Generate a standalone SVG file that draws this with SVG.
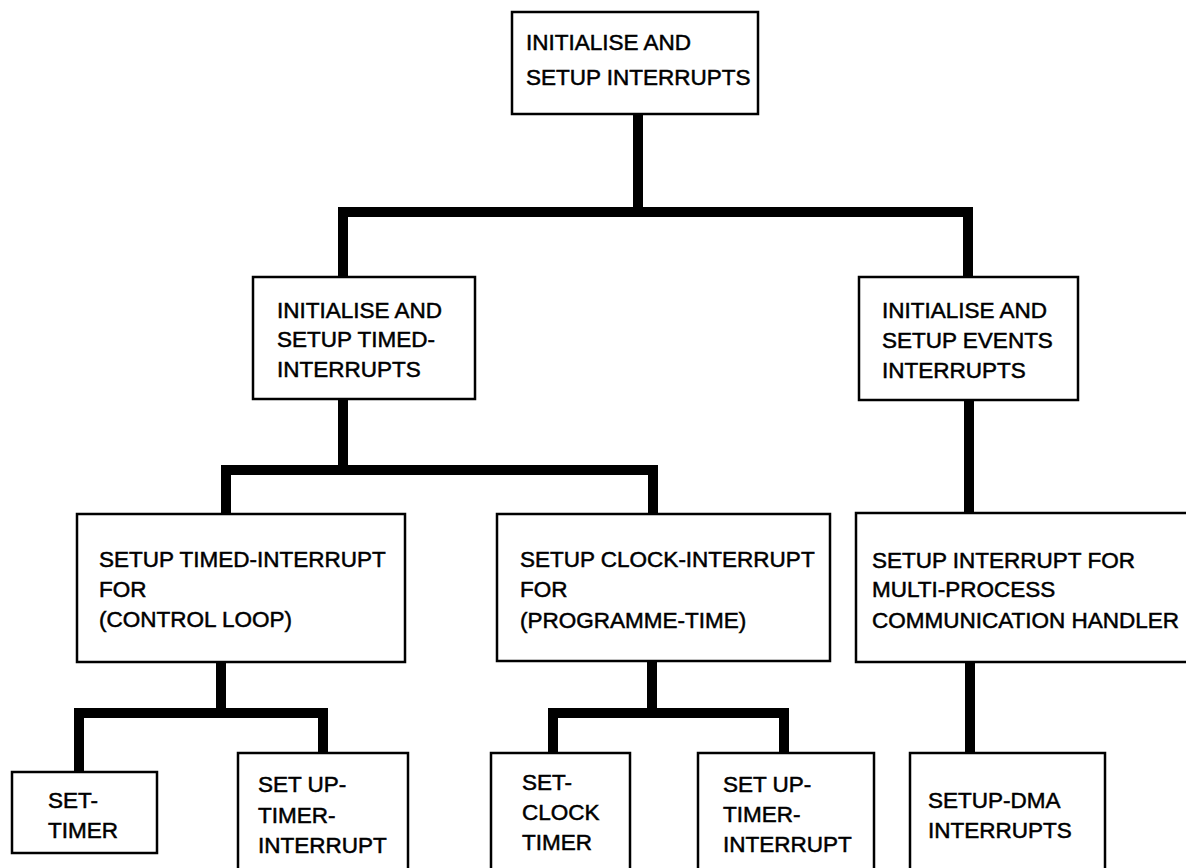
<svg xmlns="http://www.w3.org/2000/svg" width="1186" height="868" viewBox="0 0 1186 868">
  <style>
    .box { fill: #fff; stroke: #000; stroke-width: 2.5; }
    .lbl { font-family: "Liberation Sans", Arial, sans-serif; font-size: 22.5px; fill: #000; stroke: #000; stroke-width: 0.5; }
    .link { fill: none; stroke: #000; stroke-width: 10; stroke-linejoin: miter; stroke-linecap: butt; }
  </style>
  <rect width="1186" height="868" fill="#fff"/>

  <!-- tree connectors -->
  <g id="connectors">
    <path class="link" d="M638 114 V212"/>
    <path class="link" d="M343 277 V212 H968 V277"/>
    <path class="link" d="M343 399 V470"/>
    <path class="link" d="M226 514 V470 H653 V514"/>
    <path class="link" d="M969 400 V513"/>
    <path class="link" d="M221 662 V713"/>
    <path class="link" d="M79 772 V713 H323 V753"/>
    <path class="link" d="M652 661 V713"/>
    <path class="link" d="M553 753 V713 H784 V753"/>
    <path class="link" d="M970 662 V753"/>
  </g>

  <g id="root">
    <rect class="box" x="512" y="12" width="246" height="102"/>
    <text class="lbl" x="526" y="50">INITIALISE AND</text>
    <text class="lbl" x="526" y="85">SETUP INTERRUPTS</text>
  </g>

  <g id="timed">
    <rect class="box" x="253" y="277" width="222" height="122"/>
    <text class="lbl" x="277" y="318">INITIALISE AND</text>
    <text class="lbl" x="277" y="347">SETUP TIMED-</text>
    <text class="lbl" x="277" y="377">INTERRUPTS</text>
  </g>

  <g id="events">
    <rect class="box" x="859" y="277" width="219" height="123"/>
    <text class="lbl" x="882" y="318">INITIALISE AND</text>
    <text class="lbl" x="882" y="348">SETUP EVENTS</text>
    <text class="lbl" x="882" y="378">INTERRUPTS</text>
  </g>

  <g id="control-loop">
    <rect class="box" x="77" y="514" width="328" height="148"/>
    <text class="lbl" x="99" y="567">SETUP TIMED-INTERRUPT</text>
    <text class="lbl" x="99" y="597">FOR</text>
    <text class="lbl" x="99" y="627">(CONTROL LOOP)</text>
  </g>

  <g id="programme-time">
    <rect class="box" x="497" y="514" width="333" height="147"/>
    <text class="lbl" x="520" y="567">SETUP CLOCK-INTERRUPT</text>
    <text class="lbl" x="520" y="597">FOR</text>
    <text class="lbl" x="520" y="628">(PROGRAMME-TIME)</text>
  </g>

  <g id="comm-handler">
    <rect class="box" x="856" y="513" width="340" height="149"/>
    <text class="lbl" x="872" y="568">SETUP INTERRUPT FOR</text>
    <text class="lbl" x="872" y="597">MULTI-PROCESS</text>
    <text class="lbl" x="872" y="628">COMMUNICATION HANDLER</text>
  </g>

  <g id="set-timer">
    <rect class="box" x="12" y="772" width="145" height="81"/>
    <text class="lbl" x="48" y="808">SET-</text>
    <text class="lbl" x="48" y="838">TIMER</text>
  </g>

  <g id="timer-interrupt-a">
    <rect class="box" x="238" y="753" width="170" height="140"/>
    <text class="lbl" x="258" y="792">SET UP-</text>
    <text class="lbl" x="258" y="823">TIMER-</text>
    <text class="lbl" x="258" y="853">INTERRUPT</text>
  </g>

  <g id="set-clock-timer">
    <rect class="box" x="491" y="753" width="139" height="140"/>
    <text class="lbl" x="522" y="790">SET-</text>
    <text class="lbl" x="522" y="820">CLOCK</text>
    <text class="lbl" x="522" y="850">TIMER</text>
  </g>

  <g id="timer-interrupt-b">
    <rect class="box" x="698" y="753" width="176" height="140"/>
    <text class="lbl" x="723" y="792">SET UP-</text>
    <text class="lbl" x="723" y="822">TIMER-</text>
    <text class="lbl" x="723" y="852">INTERRUPT</text>
  </g>

  <g id="dma">
    <rect class="box" x="910" y="753" width="195" height="140"/>
    <text class="lbl" x="928" y="808">SETUP-DMA</text>
    <text class="lbl" x="928" y="838">INTERRUPTS</text>
  </g>
</svg>
